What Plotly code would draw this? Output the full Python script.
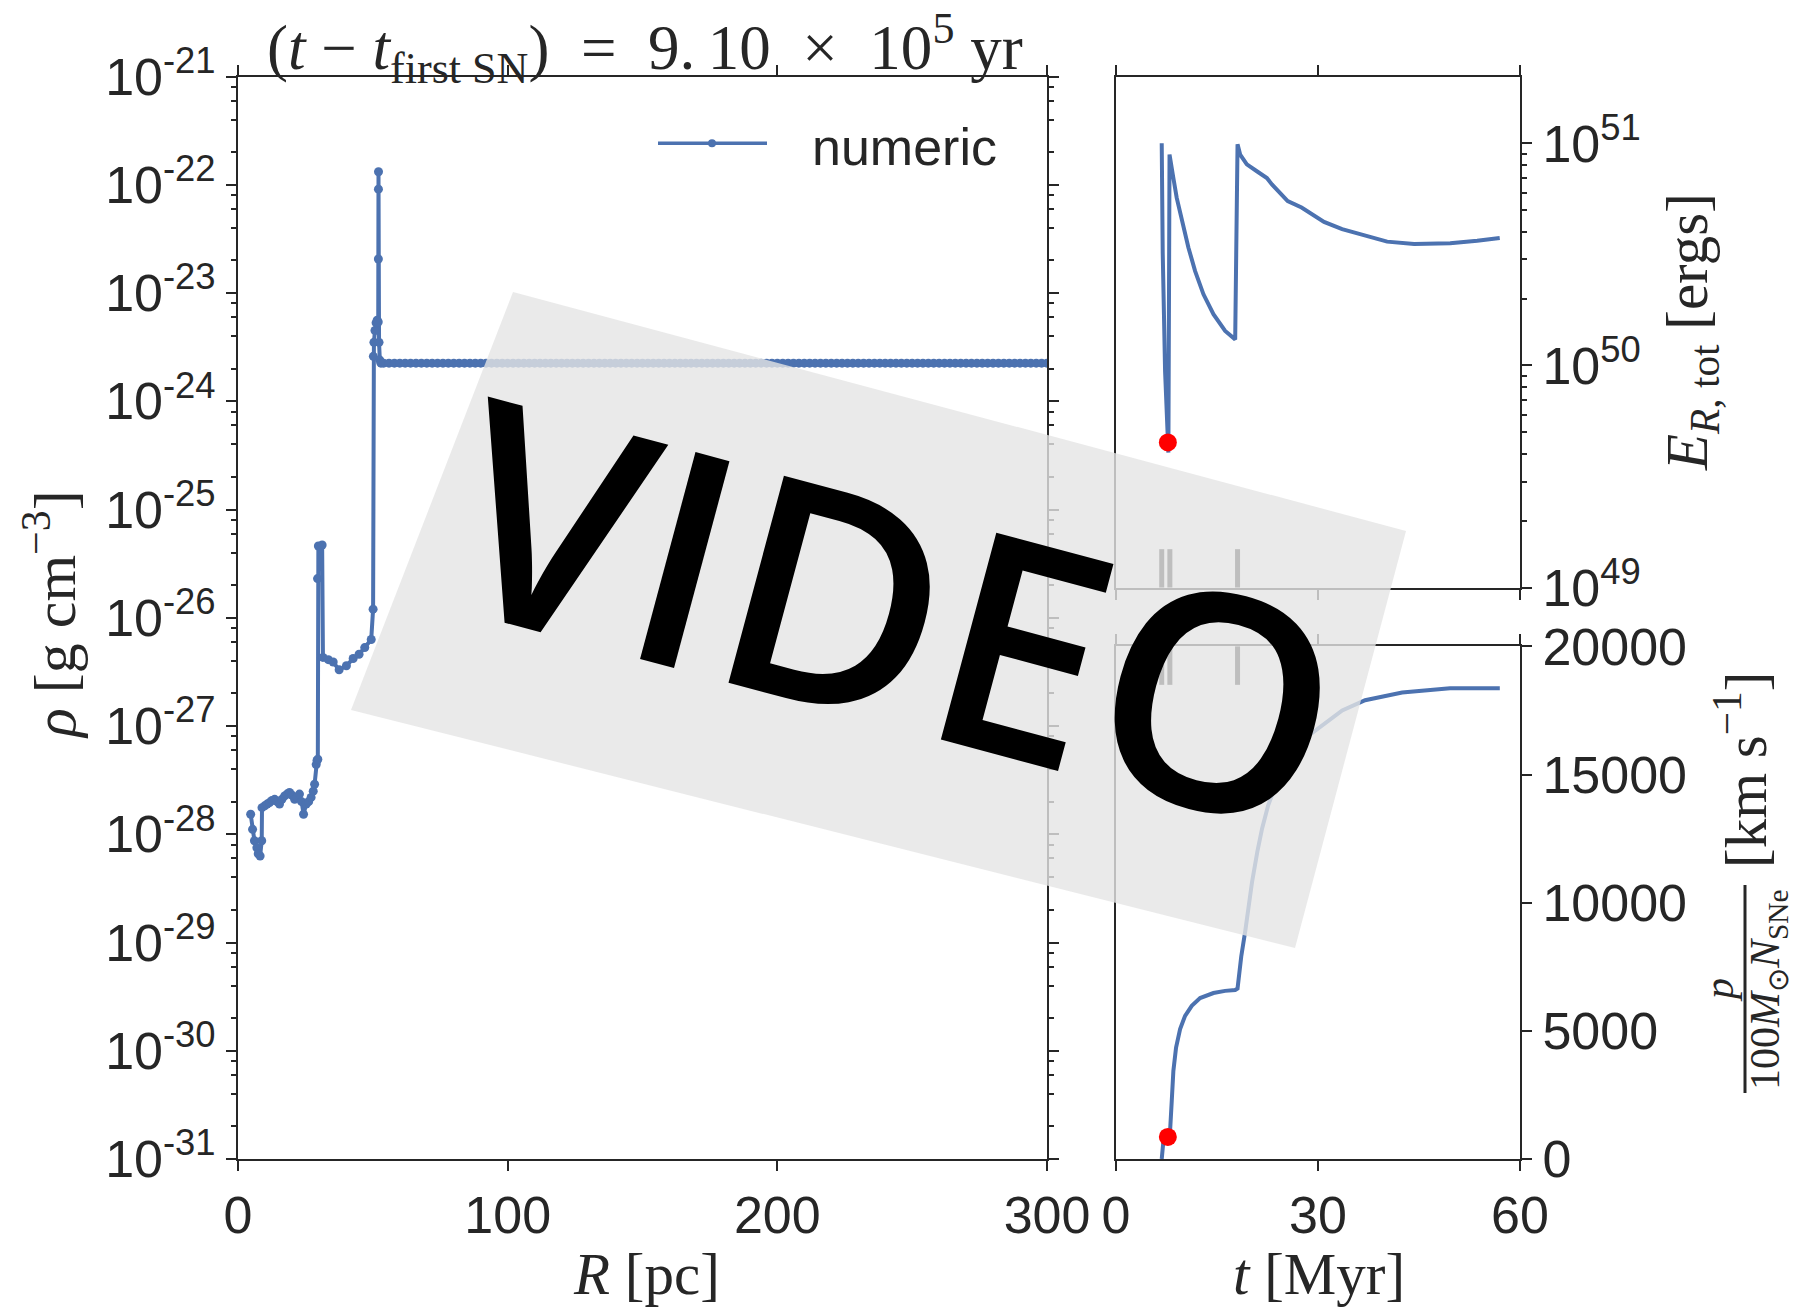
import math
import plotly.graph_objects as go

W, H = 1795, 1307
BLUE = "#4C72B0"
INK = "#262626"
SANS = "Liberation Sans, Arial, sans-serif"
SERIF = "Liberation Serif, Times New Roman, serif"

# ---- radial density profile (pc, g cm^-3) ----
r_inner = [4.7, 5.4, 6.1, 7.0, 7.5, 8.2, 8.8, 8.9, 9.9, 10.8, 11.7, 12.6, 13.6, 14.5,
           15.4, 16.3, 17.3, 18.2, 19.1, 20.0, 21.0, 21.9, 22.8, 23.6, 24.3, 25.3,
           26.2, 27.1, 27.9, 28.4, 29.0, 29.3, 29.6]
rho_inner = [1.53e-28, 1.11e-28, 8.7e-29, 7.5e-29, 6.6e-29, 6.3e-29, 8.7e-29, 1.76e-28,
             1.83e-28, 1.9e-28, 1.96e-28, 2.05e-28, 2.1e-28, 2.0e-28, 1.9e-28, 2.1e-28,
             2.26e-28, 2.35e-28, 2.43e-28, 2.3e-28, 2.1e-28, 2.2e-28, 2.35e-28, 2.0e-28,
             1.53e-28, 1.9e-28, 2.0e-28, 2.19e-28, 2.5e-28, 2.9e-28, 4.4e-28, 4.8e-28,
             4.93e-28]
r_bubble = [29.5, 29.8, 31.2, 31.5, 33.5, 35.3, 37.5, 40.2, 42.7, 44.9, 47.0, 49.4, 50.1]
rho_bubble = [2.3e-26, 4.6e-26, 4.7e-26, 4.3e-27, 4.1e-27, 3.9e-27, 3.3e-27, 3.6e-27,
              4.2e-27, 4.6e-27, 5.3e-27, 6.3e-27, 1.2e-26]
r_shell = [50.2, 50.4, 50.8, 51.2, 51.6, 52.0, 52.05, 52.08, 52.1, 52.3, 52.6, 53.0]
rho_shell = [2.6e-24, 3.5e-24, 4.5e-24, 5.3e-24, 5.6e-24, 5.4e-24, 2.06e-23, 9.1e-23,
             1.32e-22, 3.5e-24, 2.4e-24, 2.25e-24]
r_ambient = [54, 56, 58, 60, 62, 64, 66, 68, 70, 72, 74, 76, 78, 80, 82, 84, 86, 88, 90, 92,
             94, 96, 98, 100, 102, 104, 106, 108, 110, 112, 114, 116, 118, 120, 122, 124,
             126, 128, 130, 132, 134, 136, 138, 140, 142, 144, 146, 148, 150, 152, 154, 156,
             158, 160, 162, 164, 166, 168, 170, 172, 174, 176, 178, 180, 182, 184, 186, 188,
             190, 192, 194, 196, 198, 200, 202, 204, 206, 208, 210, 212, 214, 216, 218, 220,
             222, 224, 226, 228, 230, 232, 234, 236, 238, 240, 242, 244, 246, 248, 250, 252,
             254, 256, 258, 260, 262, 264, 266, 268, 270, 272, 274, 276, 278, 280, 282, 284,
             286, 288, 290, 292, 294, 296, 298, 300]
rho_ambient_level = 2.25e-24
rho_ambient = [rho_ambient_level] * len(r_ambient)

radius = r_inner + r_bubble + r_shell + r_ambient
density = rho_inner + rho_bubble + rho_shell + rho_ambient

# ---- energy history (Myr, erg) ----
t_energy = [6.79, 6.94, 7.29, 7.60, 7.78, 7.95, 8.2, 8.52, 9.02, 9.77, 10.76, 11.75, 12.99,
            14.47, 16.21, 17.70, 18.05, 18.44, 19.43, 20.92, 22.41, 23.16, 24.39, 25.5,
            27.56, 30.9, 33.58, 36.26, 40.27, 44.28, 49.63, 53.64, 56.99]
energy = [1.0e51, 3.2e50, 9.4e49, 5.5e49, 4.05e49, 8.9e50, 7.8e50, 6.98e50, 5.68e50,
          4.47e50, 3.39e50, 2.66e50, 2.09e50, 1.70e50, 1.43e50, 1.31e50, 9.9e50, 8.9e50,
          8.04e50, 7.49e50, 6.98e50, 6.53e50, 5.99e50, 5.5e50, 5.14e50, 4.43e50, 4.11e50,
          3.89e50, 3.61e50, 3.52e50, 3.55e50, 3.64e50, 3.75e50]

# ---- momentum per SN history (Myr, km/s) ----
t_mom = [6.79, 6.9, 7.04, 7.4, 7.78, 7.95, 8.03, 8.28, 8.52, 8.92, 9.52, 10.26, 11.25,
         12.49, 14.47, 16.2, 17.70, 18.05, 18.6, 19.2, 19.6, 20.2, 21.0, 21.7, 22.6, 23.6,
         24.8, 26.2, 28.0, 30.0, 33.6, 37.0, 42.5, 49.6, 57.0]
momentum = [0, 400, 700, 800, 860, 950, 1091, 2264, 3437, 4349, 5066, 5587, 5978, 6278,
            6475, 6560, 6592, 6650, 7900, 8900, 9700, 10800, 12000, 12900, 13800, 14500,
            15100, 15800, 16400, 16800, 17500, 17900, 18200, 18370, 18370]

# supernova times and current snapshot
sn_times = [6.79, 8.0, 18.05]
dt_since_first_yr = 9.10e5
t_now = sn_times[0] + dt_since_first_yr / 1e6
energy_now = 4.5e49
momentum_now = 860

rho_decades = list(range(-31, -20))
energy_decades = [49, 50, 51]
mom_ticks = [0, 5000, 10000, 15000, 20000]
r_ticks = [0, 100, 200, 300]
t_ticks = [0, 30, 60]


def px(x):
    return x / W


def py(y):
    return 1 - y / H


fig = go.Figure()
fig.add_trace(go.Scatter(x=radius, y=density, mode="lines+markers", name="numeric",
                         line=dict(color=BLUE, width=4), marker=dict(color=BLUE, size=9),
                         xaxis="x", yaxis="y", showlegend=False))
fig.add_trace(go.Scatter(x=t_energy, y=energy, mode="lines", line=dict(color=BLUE, width=4),
                         xaxis="x2", yaxis="y2", showlegend=False))
fig.add_trace(go.Scatter(x=[t_now], y=[energy_now], mode="markers",
                         marker=dict(color="red", size=18), xaxis="x2", yaxis="y2",
                         showlegend=False))
fig.add_trace(go.Scatter(x=t_mom, y=momentum, mode="lines", line=dict(color=BLUE, width=4),
                         xaxis="x3", yaxis="y3", showlegend=False))
fig.add_trace(go.Scatter(x=[t_now], y=[momentum_now], mode="markers",
                         marker=dict(color="red", size=18), xaxis="x3", yaxis="y3",
                         showlegend=False))

axis_common = dict(showgrid=False, zeroline=False, showline=True, linecolor=INK, linewidth=2,
                   ticks="outside", ticklen=10, tickwidth=2, tickcolor=INK, automargin=False,
                   tickfont=dict(family=SANS, size=52, color=INK))

main_x = (238, 1047)
side_x = (1116, 1520)

fig.update_layout(
    width=W, height=H, autosize=False, margin=dict(l=0, r=0, t=0, b=0, autoexpand=False),
    paper_bgcolor="white", plot_bgcolor="white",
    xaxis=dict(axis_common, domain=[px(main_x[0]), px(main_x[1])], range=[0, 300],
               anchor="y", tickvals=r_ticks, mirror="ticks"),
    yaxis=dict(axis_common, domain=[py(1159), py(76.5)], type="log", range=[-31, -21],
               anchor="x", mirror="ticks",
               tickvals=[10.0 ** d for d in rho_decades],
               ticktext=["10<sup>%d</sup>" % d for d in rho_decades],
               minor=dict(tickvals=[k * 10.0 ** d for d in rho_decades[:-1] for k in (2, 4, 6, 8)],
                          ticks="outside", ticklen=5, tickwidth=1.5, tickcolor=INK)),
    xaxis2=dict(axis_common, domain=[px(side_x[0]), px(side_x[1])], range=[0, 60],
                anchor="y2", tickvals=t_ticks, showticklabels=False, mirror="ticks"),
    yaxis2=dict(axis_common, domain=[py(587.5), py(76.5)], type="log",
                range=[49, math.log10(2e51)], anchor="x2", side="right", mirror=True,
                tickvals=[10.0 ** d for d in energy_decades],
                ticktext=["10<sup>%d</sup>" % d for d in energy_decades],
                minor=dict(tickvals=[k * 10.0 ** d for d in (49, 50) for k in range(2, 10)],
                           ticks="outside", ticklen=5, tickwidth=1.5, tickcolor=INK)),
    xaxis3=dict(axis_common, domain=[px(side_x[0]), px(side_x[1])], range=[0, 60],
                anchor="y3", tickvals=t_ticks, mirror="ticks"),
    yaxis3=dict(axis_common, domain=[py(1159), py(646.4)], range=[0, 20000], anchor="x3",
                side="right", mirror=True, tickvals=mom_ticks, tickformat="d"),
)

shapes = []
# supernova markers along the shared time axis
for ts in sn_times:
    shapes.append(dict(type="line", xref="x2", yref="y2 domain", x0=ts, x1=ts, y0=0, y1=0.075,
                       line=dict(color=INK, width=5), layer="above"))
    shapes.append(dict(type="line", xref="x3", yref="y3 domain", x0=ts, x1=ts, y0=0.925, y1=1,
                       line=dict(color=INK, width=5), layer="above"))

# legend entry
shapes.append(dict(type="line", xref="paper", yref="paper", x0=px(658), x1=px(767),
                   y0=py(143.3), y1=py(143.3), line=dict(color=BLUE, width=3.5)))
shapes.append(dict(type="circle", xref="paper", yref="paper", x0=px(708), x1=px(716),
                   y0=py(147.3), y1=py(139.3), fillcolor=BLUE, line=dict(width=0)))

# video banner
corners = [(513, 292), (1406, 531), (1295, 948), (351, 710)]
path = "M " + " L ".join("%.5f,%.5f" % (px(x), py(y)) for x, y in corners) + " Z"
shapes.append(dict(type="path", xref="paper", yref="paper", path=path,
                   fillcolor="rgb(229,229,229)", opacity=0.8, line=dict(width=0),
                   layer="above"))

# fraction bar of the momentum label
shapes.append(dict(type="line", xref="paper", yref="paper", x0=px(1745), x1=px(1745),
                   y0=py(885), y1=py(1093), line=dict(color=INK, width=3)))

fig.update_layout(shapes=shapes)


def note(text, x, y, size, family=SERIF, angle=0, xanchor="center", yanchor="middle",
         color=INK, weight="normal"):
    return dict(text=text, x=px(x), y=py(y), xref="paper", yref="paper", showarrow=False,
                font=dict(family=family, size=size, color=color, weight=weight),
                textangle=angle, xanchor=xanchor, yanchor=yanchor)


SP = "\u2002"
whole, frac = ("%.2f" % (dt_since_first_yr / 1e5)).split(".")
title = ("(<i>t</i> \u2212 <i>t</i><sub>first SN</sub>)" + SP + "=" + SP
         + whole + ".\u2009" + frac + SP + "\u00d7" + SP + "10<sup>5</sup> yr")

annotations = [
    note(title, 645, 48, 63),
    note("numeric", 810, 147, 52, family=SANS, xanchor="left"),
    note("<i>R</i> [pc]", 646, 1274, 59),
    note("<i>t</i> [Myr]", 1319, 1274, 59),
    note("<i>\u03c1</i> [g cm<sup>\u22123</sup>]", 50, 615, 60, angle=-90),
    note("<i>E</i><sub><i>R</i>, tot</sub> [ergs]", 1691, 332, 59, angle=-90),
    note("<i>p</i>", 1719, 990, 42, angle=-90),
    note("100<i>M</i><sub>\u2299</sub><i>N</i><sub>SNe</sub>", 1768, 990, 42, angle=-90),
    note("[km s<sup>\u22121</sup>]", 1741, 770, 59, angle=-90),
    note("VIDEO", 898, 608, 300, family="Open Sans, sans-serif", angle=15, color="black",
         weight=600),
]
fig.update_layout(annotations=annotations)

fig.write_html("out.html")
